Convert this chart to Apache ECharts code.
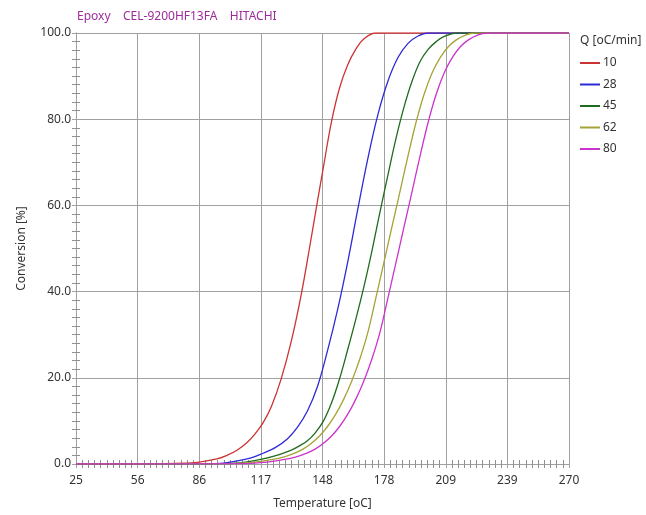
<!DOCTYPE html>
<html>
<head>
<meta charset="utf-8">
<script src="https://cdn.jsdelivr.net/npm/echarts@6/dist/echarts.min.js"></script>
<style>
html,body{margin:0;padding:0;background:#fff;}
#chart{width:646px;height:515px;}
</style>
</head>
<body>
<div id="chart"></div>
<script>
// ---- data ----
const titleText = 'Epoxy    CEL-9200HF13FA    HITACHI';
const legendTitle = 'Q [oC/min]';
const seriesNames = ['10', '28', '45', '62', '80'];
const xTickLabels = [25, 56, 86, 117, 148, 178, 209, 239, 270];

const t10 = [25, 80, 95, 100, 105, 110, 114, 118, 122, 127, 132, 137, 141, 145, 148, 152, 156, 160, 164, 168, 174, 270];
const c10 = [0, 0.2, 1.2, 2.0, 3.2, 5.0, 7.0, 9.6, 13.2, 19.8, 28.5, 39.5, 50, 61, 69, 79.5, 87.3, 92.6, 96.2, 98.6, 100, 100];

const t28 = [25, 95, 105, 112, 118, 124, 130, 135, 140, 145, 150, 155, 160, 165, 170, 175, 180, 185, 190, 195, 200, 270];
const c28 = [0, 0.1, 0.7, 1.4, 2.5, 3.8, 5.8, 8.5, 12.3, 18, 26.3, 35.8, 46.8, 59, 70.8, 81, 88.8, 94.3, 97.6, 99.3, 100, 100];

const t45 = [25, 100, 110, 118, 126, 132, 136, 140, 144, 148, 152, 156, 160, 164, 168, 172, 176, 180, 184, 188, 192, 196, 200, 204, 208, 214, 270];
const c45 = [0, 0.1, 0.5, 1.2, 2.2, 3.2, 4.2, 5.4, 7.3, 10, 14.2, 19.8, 26.5, 33.5, 41, 49.3, 58.3, 67, 75.5, 82.8, 88.8, 93.4, 96.2, 98, 99.2, 100, 100];

const t62 = [25, 104, 114, 122, 128, 134, 138, 142, 146, 150, 154, 158, 162, 166, 170, 174, 178, 182, 186, 190, 194, 198, 202, 206, 210, 214, 218, 223, 270];
const c62 = [0, 0.1, 0.45, 1.0, 1.6, 2.6, 3.5, 4.8, 6.5, 8.7, 11.5, 15, 19.2, 24.3, 30.5, 38.5, 46.7, 55, 63.2, 71.5, 79.3, 85.8, 90.8, 94.3, 96.8, 98.4, 99.4, 100, 100];

const t80 = [25, 110, 120, 128, 134, 140, 144, 148, 152, 156, 160, 164, 168, 172, 176, 180, 184, 188, 192, 196, 200, 204, 208, 212, 216, 220, 224, 229, 270];
const c80 = [0, 0.1, 0.45, 1.0, 1.6, 2.6, 3.5, 4.8, 6.5, 8.7, 11.5, 15, 19.2, 24.3, 30.5, 38.5, 46.7, 55, 63.2, 71.5, 79.3, 85.8, 90.8, 94.3, 96.8, 98.4, 99.4, 100, 100];

const X0 = 25, X1 = 270;
const xStep = (X1 - X0) / 8;

const temps = [t10, t28, t45, t62, t80];
const convs = [c10, c28, c45, c62, c80];
const colors = ['#cc3333', '#2b2bd6', '#1f6b1f', '#a3a336', '#cc33cc'];

const FONT = '"Noto Sans", "Open Sans", sans-serif';
const GRAY = '#a0a0a0';
const TXT = '#333333';

const chart = echarts.init(document.getElementById('chart'), null, {renderer: 'canvas'});

const series = seriesNames.map((n, k) => ({
  name: n,
  type: 'line',
  xAxisIndex: 0,
  yAxisIndex: 0,
  data: temps[k].map((t, i) => [t - X0, convs[k][i]]),
  showSymbol: false,
  smooth: 0.4,
  lineStyle: {color: colors[k], width: 1.3},
  itemStyle: {color: colors[k]},
  animation: false
}));

const minorTick = {show: true, splitNumber: 10, length: 4, lineStyle: {color: '#909090', width: 1}};

const option = {
  backgroundColor: '#ffffff',
  animation: false,
  textStyle: {fontFamily: FONT},
  title: {
    text: titleText,
    left: 72, top: 6,
    textStyle: {color: '#9c2c9c', fontSize: 12, fontWeight: 'normal', fontFamily: FONT}
  },
  graphic: [{
    type: 'text', left: 580, top: 35,
    style: {text: legendTitle, fill: TXT, font: '12px ' + FONT}
  }],
  legend: {
    orient: 'vertical',
    left: 575, top: 51,
    itemWidth: 20, itemHeight: 2,
    itemGap: 7.5,
    icon: 'rect',
    textStyle: {color: TXT, fontSize: 12, lineHeight: 14, fontFamily: FONT, padding: [0, 0, 0, -2]},
    data: seriesNames
  },
  grid: {left: 76, top: 33, width: 493, height: 431.5, containLabel: false},
  xAxis: [{
    type: 'value', min: 0, max: X1 - X0, interval: xStep, position: 'bottom',
    name: 'Temperature [oC]', nameLocation: 'middle', nameGap: 34,
    nameTextStyle: {color: TXT, fontSize: 12, fontFamily: FONT},
    axisLine: {show: true, lineStyle: {color: GRAY}},
    axisTick: {show: true, inside: true, length: 4, lineStyle: {color: GRAY}},
    minorTick: minorTick,
    axisLabel: {color: TXT, fontSize: 12, margin: 11, fontFamily: FONT,
      formatter: v => String(xTickLabels[Math.round(v / xStep)])},
    splitLine: {show: true, lineStyle: {color: GRAY, width: 1}}
  }, {
    type: 'value', min: 0, max: X1 - X0, interval: xStep, position: 'top',
    axisLine: {show: true, lineStyle: {color: GRAY}},
    axisTick: {show: true, inside: true, length: 4, lineStyle: {color: GRAY}},
    minorTick: minorTick,
    axisLabel: {show: false},
    splitLine: {show: false}
  }],
  yAxis: [{
    type: 'value', min: 0, max: 100, interval: 20, position: 'left',
    name: 'Conversion [%]', nameLocation: 'middle', nameGap: 48,
    nameTextStyle: {color: TXT, fontSize: 12, fontFamily: FONT},
    axisLine: {show: true, lineStyle: {color: GRAY}},
    axisTick: {show: true, inside: true, length: 4, lineStyle: {color: GRAY}},
    minorTick: minorTick,
    axisLabel: {color: TXT, fontSize: 12, margin: 5, fontFamily: FONT,
      formatter: v => v.toFixed(1)},
    splitLine: {show: true, lineStyle: {color: GRAY, width: 1}}
  }, {
    type: 'value', min: 0, max: 100, interval: 20, position: 'right',
    axisLine: {show: true, lineStyle: {color: GRAY}},
    axisTick: {show: true, inside: true, length: 4, lineStyle: {color: GRAY}},
    minorTick: minorTick,
    axisLabel: {show: false},
    splitLine: {show: false}
  }],
  series: series
};
chart.setOption(option);
</script>
</body>
</html>
